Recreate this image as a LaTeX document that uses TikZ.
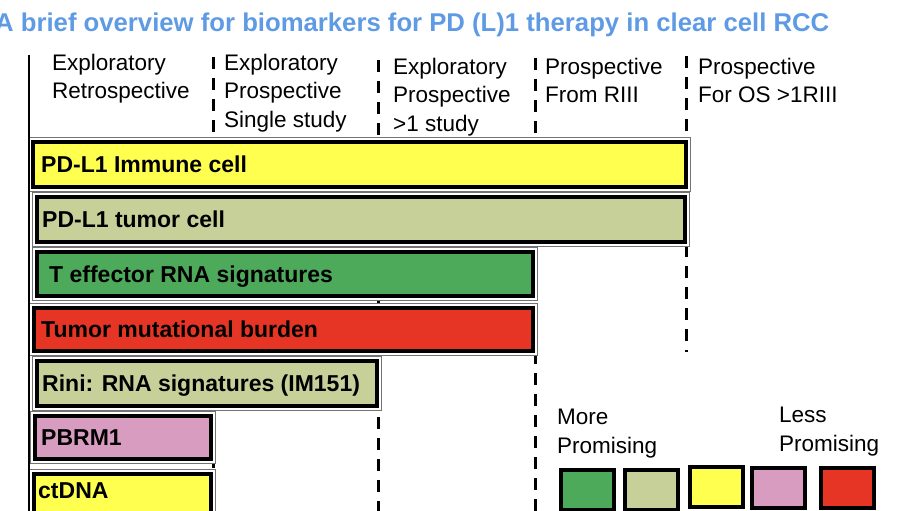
\documentclass[tikz,border=0pt]{standalone}
\usepackage{fontspec}
\setmainfont{Liberation Sans}
\usepackage{xcolor}
\usetikzlibrary{positioning}

\definecolor{titleblue}{RGB}{94,155,228}
\definecolor{baryellow}{RGB}{255,255,80}
\definecolor{barkhaki}{RGB}{200,208,154}
\definecolor{bargreen}{RGB}{78,170,91}
\definecolor{barred}{RGB}{230,53,37}
\definecolor{barpink}{RGB}{216,156,192}

\tikzset{
  barbox/.style={draw, rectangle, line width=4pt, anchor=north west, inner sep=0pt, outer sep=0pt,
    preaction={draw=black!55, line width=10pt}, preaction={draw=white, line width=8pt}},
  barlabel/.style={inner sep=0pt, anchor=west, text height=16.5pt, text depth=0pt,
    font=\fontsize{23}{27}\selectfont\bfseries},
  colhead/.style={anchor=north west, align=left, inner sep=0pt, font=\fontsize{22.5}{28.7}\selectfont},
  legendbox/.style={draw, rectangle, line width=4pt, anchor=north west, inner sep=0pt, outer sep=0pt,
    minimum width=53pt, minimum height=40pt},
  stagesep/.style={line width=3pt, dash pattern=on 12pt off 9pt}
}

\begin{document}
\begin{tikzpicture}[x=1pt, y=-1pt]
            \useasboundingbox (0,0) rectangle (900,511);
            \clip (0,0) rectangle (900,511);
            \node[anchor=base west, inner sep=0pt, text=titleblue, font=\fontsize{25.7}{30}\selectfont\bfseries] (title) at (-5,32) {A brief overview for biomarkers for PD (L)1 therapy in clear cell RCC};
            \foreach \xpos/\ytop/\ybot in {213/57/511, 378/60/511, 535/58/511, 686/56/352}
                \draw[stagesep] (\xpos,\ytop) -- (\xpos,\ybot);
            \node[colhead] (retro) at (52,53.6) {Exploratory\\Retrospective};
            \node[colhead] (single) at (224,53.6) {Exploratory\\Prospective\\Single study};
            \node[colhead] (multi) at (393,57.6) {Exploratory\\Prospective\\>1 study};
            \node[colhead] (fromr) at (545,57.6) {Prospective\\From RIII};
            \node[colhead] (foros) at (698,57.6) {Prospective\\For OS >1RIII};
            \node[barbox, fill=baryellow, minimum width=653pt, minimum height=45pt] (immune) at (33,142) {};
            \node[barlabel, right=8pt of immune.west] (immunetext) {PD-L1 Immune cell};
            \node[barbox, fill=barkhaki, minimum width=648pt, minimum height=45pt] (tumor) at (37,197) {};
            \node[barlabel, right=5pt of tumor.west] (tumortext) {PD-L1 tumor cell};
            \node[barbox, fill=bargreen, minimum width=496pt, minimum height=44pt] (teff) at (37,252) {};
            \node[barlabel, right=12pt of teff.west] (tefftext) {T effector RNA signatures};
            \node[barbox, fill=barred, minimum width=499pt, minimum height=43pt] (tmb) at (34,308) {};
            \node[barlabel, right=7pt of tmb.west] (tmbtext) {Tumor mutational burden};
            \node[barbox, fill=barkhaki, minimum width=340pt, minimum height=45pt] (rini) at (37,361) {};
            \node[barlabel, right=5pt of rini.west] (rinitext) {Rini: RNA signatures (IM151)};
            \node[barbox, fill=barpink, minimum width=176pt, minimum height=43pt] (pbrm) at (35,416) {};
            \node[barlabel, right=6pt of pbrm.west] (pbrmtext) {PBRM1};
            \node[barbox, fill=baryellow, minimum width=177pt, minimum height=46pt] (ctdna) at (34,474) {};
            \node[barlabel, right=4pt of ctdna.west, yshift=7pt] (ctdnatext) {ctDNA};
            \draw[line width=2pt] (29,55) -- (29,511);
            \node[colhead] (moretext) at (557,408.9) {More\\Promising};
            \node[colhead] (lesstext) at (779,406.9) {Less\\Promising};
            \node[legendbox, fill=bargreen] (keygreen) at (561,470) {};
            \node[legendbox, fill=barkhaki] (keykhaki) at (625,470) {};
            \node[legendbox, fill=baryellow] (keyyellow) at (690,467) {};
            \node[legendbox, fill=barpink] (keypink) at (752,468) {};
            \node[legendbox, fill=barred] (keyred) at (821,468) {};
        \end{tikzpicture}
\end{document}
